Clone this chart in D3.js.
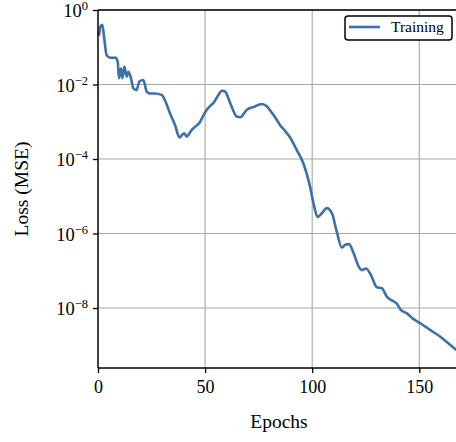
<!DOCTYPE html>
<html><head><meta charset="utf-8">
<script src="https://cdn.jsdelivr.net/npm/d3@7"></script>
<style>body{margin:0;background:#fff}svg{display:block}text{font-family:"Liberation Serif","Times New Roman",serif;fill:#000}</style>
</head><body><svg id="c" width="456" height="442"></svg>
<script>
const epochs = [0,0.5,0.9,2,2.9,4,5.6,8.2,9.2,9.8,10.7,11.4,12.3,13.4,14.2,15.4,16.5,18,19.3,21.2,22.7,24.3,26.6,29.7,31.5,33.6,36,38,40.2,41.4,43.7,45.5,47.7,49,50.8,52.5,53.9,56.2,57.8,59.3,61.7,64.8,66.4,69.5,72.6,76.5,78.8,81,83.5,85,87,89.4,92.8,95.9,99,100.6,102.5,104.5,106.8,109.2,111.5,113.8,115.5,117.2,119.3,122,123.3,125.2,127.3,130.2,132.5,134.9,137.2,139.3,141.4,144.2,147,150.5,155,159.8,164.5,169];
const loss = [0.25,0.214,0.324,0.398,0.174,0.0617,0.0525,0.0525,0.0407,0.0148,0.0269,0.0148,0.0302,0.0162,0.0219,0.0148,0.00794,0.00708,0.012,0.0132,0.00646,0.00575,0.00575,0.00525,0.0035,0.0017,8.1e-4,3.8e-4,4.9e-4,4.0e-4,6.0e-4,7.5e-4,1.0e-3,1.4e-3,2.1e-3,2.7e-3,3.2e-3,5.2e-3,6.8e-3,6.5e-3,3.2e-3,1.38e-3,1.32e-3,2.1e-3,2.5e-3,3.0e-3,2.6e-3,1.8e-3,1.12e-3,8.1e-4,6.0e-4,4.0e-4,1.74e-4,7.6e-5,1.8e-5,6.5e-6,2.8e-6,3.5e-6,4.8e-6,3.5e-6,1.1e-6,4.2e-7,5.0e-7,5.2e-7,3.0e-7,1.2e-7,1.05e-7,1.15e-7,7.9e-8,3.6e-8,3.4e-8,2.0e-8,1.6e-8,1.35e-8,8.9e-9,7.2e-9,5.2e-9,3.9e-9,2.6e-9,1.7e-9,1.02e-9,6.2e-10];
const xTicks = [0,50,100,150];
const yTickExps = [0,-2,-4,-6,-8];
const seriesName = "Training";

const svg = d3.select("#c");
const L=98, T=10, B=368, R=460;
const x = d3.scaleLinear().domain([0,169]).range([L,R]);
const y = d3.scaleLog().domain([Math.pow(10,-9.61),1]).range([B,T]);

// grid
const g = svg.append("g");
g.selectAll(".vg").data(xTicks.slice(1)).enter().append("line")
 .attr("x1",d=>x(d)).attr("x2",d=>x(d)).attr("y1",T).attr("y2",B)
 .attr("stroke","#a8a8a8").attr("stroke-width",1.1);
g.selectAll(".hg").data(yTickExps).enter().append("line")
 .attr("x1",L).attr("x2",R).attr("y1",d=>y(Math.pow(10,d))).attr("y2",d=>y(Math.pow(10,d)))
 .attr("stroke","#a8a8a8").attr("stroke-width",1.1);

// line
const line = d3.line().x((d,i)=>x(epochs[i])).y(d=>y(d)).curve(d3.curveMonotoneX);
svg.append("path").datum(loss).attr("d",line).attr("fill","none")
 .attr("stroke","#3b70a8").attr("stroke-width",2.6).attr("stroke-linejoin","round");

// spines
svg.append("line").attr("x1",L).attr("x2",R).attr("y1",T).attr("y2",T).attr("stroke","#000").attr("stroke-width",1.5);
svg.append("line").attr("x1",L).attr("x2",R).attr("y1",B).attr("y2",B).attr("stroke","#000").attr("stroke-width",1.5);
svg.append("line").attr("x1",L).attr("x2",L).attr("y1",T).attr("y2",B).attr("stroke","#000").attr("stroke-width",1.5);

// x axis
const xa = svg.append("g").attr("transform",`translate(0,${B})`)
 .call(d3.axisBottom(x).tickValues(xTicks).tickSize(5).tickPadding(7).tickFormat(d3.format("d")));
xa.select(".domain").remove();
xa.selectAll("line").attr("stroke","#000").attr("stroke-width",1.3);
xa.selectAll("text").attr("font-size","18px").attr("font-family","Liberation Serif");

// y axis
const ya = svg.append("g").attr("transform",`translate(${L},0)`)
 .call(d3.axisLeft(y).tickValues(yTickExps.map(e=>Math.pow(10,e))).tickSize(5).tickFormat(""));
ya.select(".domain").remove();
ya.selectAll("line").attr("stroke","#000").attr("stroke-width",1.3);
yTickExps.forEach(e=>{
  const t = svg.append("text").attr("x",88).attr("y",y(Math.pow(10,e))+7).attr("text-anchor","end").attr("font-size","18.5px");
  t.append("tspan").text("10");
  t.append("tspan").attr("dy",-7).attr("font-size","12.5px").text(e===0?"0":"\u2212"+(-e));
});

// labels
svg.append("text").attr("x",(L+R)/2).attr("y",428).attr("text-anchor","middle").attr("font-size","19.5px").text("Epochs");
svg.append("text").attr("transform",`translate(28,${(T+B)/2}) rotate(-90)`).attr("text-anchor","middle").attr("font-size","19.5px").text("Loss (MSE)");

// legend
const lg = svg.append("g");
lg.append("rect").attr("x",345).attr("y",16).attr("width",107).attr("height",24).attr("rx",3)
 .attr("fill","#fff").attr("stroke","#000").attr("stroke-width",1.5);
lg.append("line").attr("x1",349).attr("x2",380).attr("y1",27).attr("y2",27).attr("stroke","#3b70a8").attr("stroke-width",2.6);
lg.append("text").attr("x",391).attr("y",32).attr("font-size","15.5px").text(seriesName);
</script></body></html>
